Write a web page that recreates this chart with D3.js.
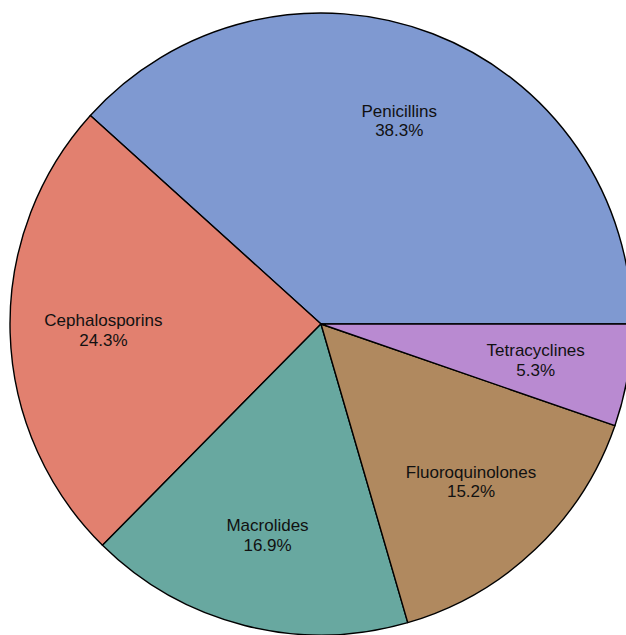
<!DOCTYPE html>
<html>
<head>
<meta charset="utf-8">
<script src="https://cdn.jsdelivr.net/npm/d3@7"></script>
<style>
  html, body { margin: 0; padding: 0; background: #fff; overflow: hidden; }
  svg { display: block; }
</style>
</head>
<body>
<svg id="pie" width="626" height="635"></svg>
<script>
// Data
const categories = ["Penicillins", "Cephalosporins", "Macrolides", "Fluoroquinolones", "Tetracyclines"];
const shares = [38.3, 24.3, 16.9, 15.2, 5.3];
const colors = ["#7f99d1", "#e2806f", "#68a8a0", "#b0895f", "#b98ad1"];

const svg = d3.select("#pie"),
  cx = 321,
  cy = 324,
  radius = 311;

const rows = categories.map((c, i) => ({ name: c, value: shares[i], color: colors[i] }));

// start at 3 o'clock, go counter-clockwise
const pie = d3
  .pie()
  .sort(null)
  .value((d) => d.value)
  .startAngle(Math.PI / 2)
  .endAngle(Math.PI / 2 - 2 * Math.PI);

const arc = d3.arc().innerRadius(0).outerRadius(radius);
const labelArc = d3.arc().innerRadius(radius * 0.7).outerRadius(radius * 0.7);

const g = svg.append("g").attr("transform", `translate(${cx},${cy})`);

g.selectAll("path")
  .data(pie(rows))
  .join("path")
  .attr("d", arc)
  .attr("fill", (d) => d.data.color)
  .attr("stroke", "#000")
  .attr("stroke-width", 1.4)
  .attr("stroke-linejoin", "round");

const labels = g
  .selectAll("text")
  .data(pie(rows))
  .join("text")
  .attr("transform", (d) => `translate(${labelArc.centroid(d)})`)
  .attr("text-anchor", "middle")
  .style("font-family", "'Liberation Sans', Arial, sans-serif")
  .style("font-size", "17px")
  .attr("fill", "#111");

labels.append("tspan").attr("x", 0).attr("y", -4).text((d) => d.data.name);
labels
  .append("tspan")
  .attr("x", 0)
  .attr("y", 15.5)
  .text((d) => d.data.value.toFixed(1) + "%");
</script>
</body>
</html>
